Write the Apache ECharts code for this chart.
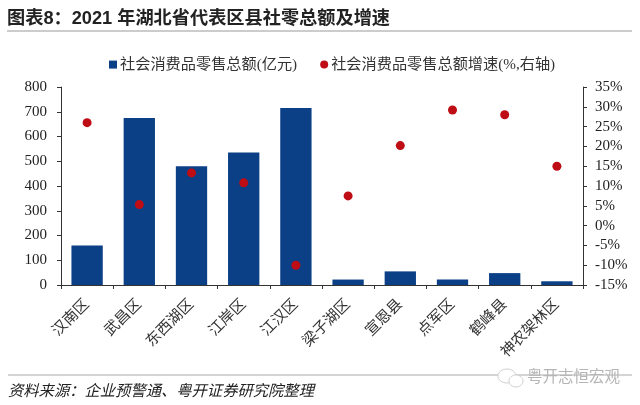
<!DOCTYPE html>
<html><head><meta charset="utf-8">
<style>html,body{margin:0;padding:0;background:#fff}#c{width:640px;height:405px}</style>
<script src="https://cdn.jsdelivr.net/npm/echarts@6/dist/echarts.min.js"></script>
</head><body><div id="c"></div>
<script>
const categories=['汉南区','武昌区','东西湖区','江岸区','江汉区','梁子湖区','宣恩县','点军区','鹤峰县','神农架林区'];
const retailSales=[160,675,480,535,715,22,55,22,48,15];
const retailGrowth=[26,5.3,13.3,10.8,-10,7.5,20.2,29.2,28,15];
const serif='"Liberation Serif","Noto Sans CJK SC",serif';
const chart=echarts.init(document.getElementById('c'),null,{renderer:'canvas'});
const lineC='#333';
chart.setOption({
 animation:false,
 backgroundColor:'#fff',
 grid:{left:61,right:57,top:87,bottom:120,containLabel:false},
 title:[
  {text:'图表8：2021 年湖北省代表区县社零总额及增速',left:7,top:10,padding:0,textStyle:{fontFamily:'"Liberation Sans","Noto Sans CJK SC",sans-serif',fontSize:18.2,fontWeight:'bold',color:'#222'}},
  {text:'资料来源：企业预警通、粤开证券研究院整理',left:8,top:383,padding:0,textStyle:{fontFamily:'"Noto Sans CJK SC",sans-serif',fontSize:15.3,fontStyle:'italic',fontWeight:'normal',color:'#222'}},
  {text:'粤开志恒宏观',left:527,top:368,padding:0,textStyle:{fontFamily:'"Noto Sans CJK SC",sans-serif',fontSize:15.5,fontWeight:'normal',color:'#b5b5b5'}}
 ],
 legend:{top:52,left:104,itemGap:23,itemWidth:8,itemHeight:8,
  textStyle:{fontFamily:serif,fontSize:15.2,color:'#333',padding:[0,0,0,-2]},
  data:[{name:'社会消费品零售总额(亿元)',icon:'rect'},{name:'社会消费品零售总额增速(%,右轴)',icon:'circle'}]},
 xAxis:{type:'category',data:categories,
  axisLine:{onZero:false,lineStyle:{color:lineC,width:1}},
  axisTick:{show:true,inside:false,length:4,lineStyle:{color:lineC},alignWithLabel:false},
  axisLabel:{rotate:45,interval:0,fontFamily:serif,fontSize:15,color:'#333',margin:17}},
 yAxis:[
  {type:'value',min:0,max:800,interval:100,splitLine:{show:false},
   axisLine:{show:true,lineStyle:{color:lineC}},axisTick:{show:true,length:4,lineStyle:{color:lineC}},
   axisLabel:{fontFamily:serif,fontSize:15,color:'#222',margin:14}},
  {type:'value',min:-15,max:35,interval:5,position:'right',splitLine:{show:false},
   axisLine:{show:true,lineStyle:{color:lineC}},axisTick:{show:true,length:4,lineStyle:{color:lineC}},
   axisLabel:{fontFamily:serif,fontSize:15,color:'#222',margin:12,formatter:'{value}%'}}
 ],
 series:[
  {name:'社会消费品零售总额(亿元)',type:'bar',data:retailSales,barWidth:'60%',itemStyle:{color:'#0b3f86'}},
  {name:'社会消费品零售总额增速(%,右轴)',type:'scatter',yAxisIndex:1,data:retailGrowth,symbol:'circle',symbolSize:9,itemStyle:{color:'#bf0d16',opacity:1}}
 ],
 graphic:[
  {type:'line',shape:{x1:7,y1:31,x2:632,y2:31},style:{stroke:'#999',lineWidth:1}},
  {type:'line',shape:{x1:8,y1:375,x2:632,y2:375},style:{stroke:'#aaa',lineWidth:1}},
  {type:'ellipse',z:5,shape:{cx:507,cy:376,rx:9,ry:7},style:{fill:'#fff',stroke:'#cfcfcf',lineWidth:1}},
  {type:'ellipse',z:6,shape:{cx:516,cy:381,rx:7,ry:6},style:{fill:'#fff',stroke:'#cfcfcf',lineWidth:1}}
 ]
});
</script></body></html>
